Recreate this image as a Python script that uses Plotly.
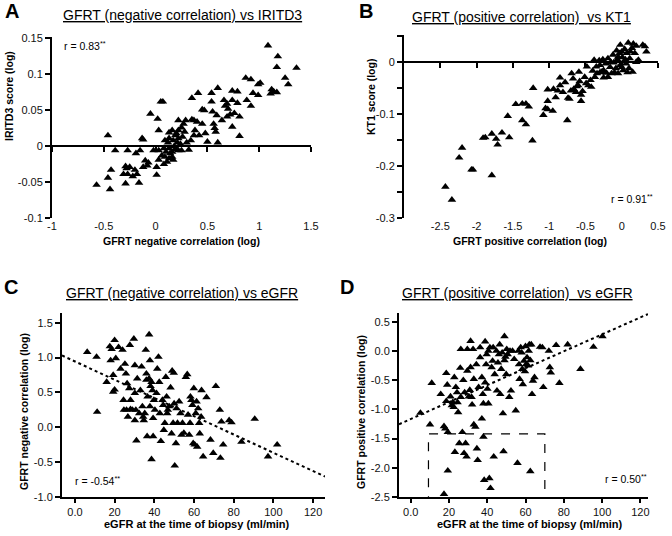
import plotly.graph_objects as go

W, H = 672, 536
FONT = "Arial, Liberation Sans, sans-serif"

# ---- panel A: GFRT negative correlation vs IRITD3 score ----
a_x = [1.085, 1.18, 1.17, 1.36, 1.25, 1.28, 1.12, 1.14, 1.17, 1.11,
       0.87, 0.92, 1.01, 0.99, 0.94, 0.99, 0.88, 0.92, 0.74, 0.79,
       0.60, 0.54, 0.41, 0.35, 0.66, 0.74, 0.79, 0.69, 0.67, 0.70,
       0.72, 0.76, 0.81, 0.69, 0.64, 0.74, 0.81, 0.54, 0.55, 0.59,
       0.45, 0.47, 0.35, 0.37, 0.40, 0.45, 0.56, 0.57, 0.58, 0.48,
       0.42, 0.37, 0.38, 0.50, 0.60, 0.29, 0.27, 0.22, 0.25, 0.22,
       0.16, 0.13, 0.19, 0.22, 0.26, 0.13, 0.09, 0.17, 0.21, 0.30,
       0.34, 0.03, 0.02, -0.05, 0.05, 0.07, -0.13, -0.12, -0.46, -0.39,
       -0.27, -0.19, -0.15, -0.02, 0.03, 0.08, 0.13, 0.16, 0.22, 0.25,
       0.32, 0.06, 0.09, 0.13, 0.16, 0.17, 0.11, 0.08, 0.03, -0.10,
       -0.07, -0.08, 0.01, 0.01, -0.12, -0.20, -0.18, -0.29, -0.28, -0.25,
       -0.27, -0.22, -0.31, -0.16, -0.29, -0.43, -0.46, -0.44, -0.57,
       0.18, 0.20, 0.12, 0.24, 0.14, 0.10, 0.28, 0.19]
a_y = [0.140, 0.125, 0.110, 0.109, 0.095, 0.086, 0.079, 0.076, 0.075, 0.073,
       0.095, 0.093, 0.088, 0.086, 0.074, 0.071, 0.064, 0.056, 0.077, 0.076,
       0.081, 0.074, 0.074, 0.067, 0.064, 0.064, 0.060, 0.059, 0.056, 0.052,
       0.044, 0.046, 0.041, 0.041, 0.036, 0.027, 0.014, 0.062, 0.048, 0.043,
       0.051, 0.050, 0.037, 0.036, 0.034, 0.031, 0.031, 0.025, 0.020, 0.018,
       0.015, 0.015, 0.022, 0.006, 0.005, 0.036, 0.031, 0.036, 0.026, 0.022,
       0.022, 0.019, 0.015, 0.011, 0.013, 0.011, 0.008, 0.008, 0.005, 0.005,
       0.008, 0.022, 0.038, 0.045, 0.062, 0.062, 0.011, 0.009, 0.015, -0.006,
       -0.006, -0.010, -0.006, -0.006, -0.006, -0.003, -0.003, -0.008, -0.006, -0.006,
       -0.005, -0.013, -0.015, -0.017, -0.015, -0.019, -0.022, -0.025, -0.019, -0.020,
       -0.023, -0.027, -0.029, -0.040, -0.029, -0.033, -0.039, -0.028, -0.031, -0.029,
       -0.039, -0.042, -0.039, -0.051, -0.052, -0.033, -0.044, -0.060, -0.054,
       0.000, 0.018, 0.005, 0.003, -0.010, -0.008, 0.020, -0.004]

# ---- panel B: GFRT positive correlation vs KT1 score ----
b_x = [-2.43, -2.34, -2.24, -2.20, -2.07, -2.05, -1.79, -1.91, -1.88, -1.79,
       -1.73, -1.71, -1.65, -1.55, -1.57, -1.46, -1.37, -1.32, -1.28, -1.37,
       -1.32, -1.23, -1.22, -1.08, -1.05, -1.02, -1.02, -0.95, -1.02, -0.94,
       -0.88, -0.91, -0.85, -0.81, -0.78, -0.75, -0.74, -0.72, -0.69, -0.67,
       -0.66, -0.63, -0.62, -0.59, -0.58, -0.56, -0.56, -0.54, -0.51, -0.49,
       -0.48, -0.46, -0.43, -0.42, -0.40, -0.38, -0.37, -0.35, -0.34, -0.31,
       -0.30, -0.28, -0.26, -0.25, -0.22, -0.21, -0.19, -0.19, -0.16, -0.14,
       -0.12, -0.11, -0.08, -0.07, -0.06, -0.05, -0.03, -0.02, -0.02, 0.01,
       0.02, 0.04, 0.06, 0.07, 0.09, 0.10, 0.11, 0.14, 0.15, 0.16,
       0.18, 0.20, 0.23, 0.29, 0.32, 0.34, -0.15, -0.05, 0.00, 0.05,
       0.12, -0.10, 0.08, -0.30, -0.25, 0.00, 0.20, -0.60, -0.70, -0.85]
b_y = [-0.240, -0.265, -0.184, -0.165, -0.207, -0.207, -0.218, -0.146, -0.145, -0.138,
       -0.148, -0.159, -0.136, -0.145, -0.104, -0.081, -0.080, -0.080, -0.086, -0.112,
       -0.120, -0.151, -0.050, -0.102, -0.089, -0.091, -0.075, -0.094, -0.053, -0.052,
       -0.055, -0.068, -0.045, -0.058, -0.039, -0.112, -0.069, -0.071, -0.022, -0.032,
       -0.052, -0.058, -0.047, -0.019, -0.037, -0.063, -0.075, -0.056, -0.029, -0.041,
       -0.009, -0.045, -0.035, -0.048, -0.017, 0.004, -0.029, -0.009, -0.022, 0.003,
       -0.006, -0.019, 0.005, -0.016, -0.003, -0.021, 0.007, -0.029, -0.010, -0.022,
       0.014, -0.001, -0.012, 0.022, 0.005, -0.022, 0.017, -0.006, 0.033, 0.009,
       -0.016, 0.025, -0.003, 0.017, 0.037, -0.012, 0.007, 0.027, -0.019, 0.035,
       0.017, 0.031, 0.004, 0.033, 0.030, 0.020, 0.000, 0.010, -0.010, 0.005,
       0.020, -0.020, -0.020, -0.020, -0.030, 0.020, 0.000, -0.045, -0.055, -0.030]

# ---- panel C: eGFR vs GFRT negative correlation ----
c_x = [6.2, 10.9, 11.2, 16, 17.6, 18.5, 18, 19.3, 19.3, 20,
       20, 20.6, 22, 23, 24, 24.5, 24.7, 25.2, 25.7, 26,
       26.3, 26.7, 27.4, 27.7, 28, 28, 29, 29.7, 30.2, 30.2,
       30.2, 30.7, 31, 31.4, 32.4, 33, 33.6, 34, 34.4, 34.7,
       35.2, 35.7, 36, 36, 36.4, 36.6, 37.4, 37.4, 37.8, 37.8,
       38.1, 38.6, 38.6, 39.1, 39.4, 39.4, 39.8, 40.3, 41.1, 41.5,
       42.1, 42.5, 42.8, 43.3, 44.1, 44.5, 44.8, 45.3, 45.8, 46.2,
       46.5, 46.8, 47.5, 48.2, 48.7, 49, 49.5, 49.8, 50, 50.3,
       50.9, 51.2, 51.7, 52.5, 53.2, 53.7, 54.2, 54.9, 55.9, 56.6,
       57, 57.6, 58, 58.2, 58.7, 59.2, 59.6, 59.9, 60.4, 60.9,
       61.3, 61.6, 62.1, 62.6, 62.9, 63.6, 63.8, 64.6, 66.3, 68.3,
       69.7, 71, 73, 73.3, 73.8, 74.7, 77.7, 78.9, 83.9, 90.6,
       97.3, 101.9]
c_y = [1.08, 1.01, 0.22, 0.65, 1.16, 1.12, 0.96, 0.75, 0.51, 0.54,
       1.25, 0.99, 1.15, 0.84, 1.11, 0.39, 0.25, 0.91, 0.77, 0.25,
       0.63, 0.15, 0.56, 1.18, 0.39, 0.26, 0.25, 1.27, 0.89, 0.49,
       0.10, 0.25, -0.19, 0.70, 0.20, 0.53, 0.87, 0.30, 0.15, 0.10,
       0.20, 1.11, 0.68, 0.77, -0.13, 0.44, 1.33, 0.70, 0.96, 0.30,
       0.59, 0.65, -0.46, 0.53, -0.13, 0.13, 0.39, 0.25, 0.49, 0.84,
       1.01, 0.65, 0.20, -0.20, 0.39, 0.32, -0.04, 0.06, 0.72, 0.44,
       0.20, 0.25, 0.30, 0.57, -0.09, 0.81, 0.06, 0.78, 0.34, -0.55,
       -0.23, 0.27, 0.06, 0.37, 0.20, -0.11, 0.06, -0.08, 0.72, 0.76,
       0.18, -0.11, 0.06, 0.44, 0.39, 0.32, -0.23, 0.56, -0.25, 0.20,
       0.37, -0.28, 0.27, 0.06, -0.09, 0.15, 0.53, -0.42, 0.43, -0.18,
       -0.37, 0.59, 0.25, -0.44, 0.08, -0.25, 0.10, 0.07, -0.21, 0.12,
       -0.42, -0.25]

# ---- panel D: eGFR vs GFRT positive correlation ----
d_x = [5.1, 10.1, 11, 15.7, 17.4, 18.1, 17.4, 18.6, 19.1, 18.6,
       19.4, 19.4, 20.8, 21.5, 22, 22.5, 22.8, 23.1, 23.6, 24.2,
       24.5, 24.8, 25.4, 25.9, 26.2, 26.2, 27, 27.5, 27.9, 28.2,
       28.7, 29.2, 29.6, 29.6, 30.4, 30.9, 31.3, 31.3, 31.8, 32.1,
       32.6, 33, 33, 33.8, 34.3, 34.6, 35, 35.5, 36.3, 36.3,
       37.2, 37.2, 37.7, 38, 38, 38.4, 38.9, 38.9, 39.4, 39.7,
       40.1, 40.6, 40.6, 41.1, 41.4, 41.7, 42.3, 42.8, 43.1, 43.4,
       43.9, 44.8, 45.1, 45.6, 46.1, 46.5, 46.8, 47.3, 47.8, 48.2,
       48.5, 49, 49, 49.5, 49.9, 50.2, 50.7, 51.5, 51.9, 52.4,
       53.2, 54.1, 54.9, 55.8, 56.3, 56.6, 56.9, 57.5, 58, 58.3,
       58.6, 59.2, 59.7, 60, 60.3, 60.8, 61.3, 61.7, 62, 62.5,
       62.5, 63, 63.4, 63.9, 64.7, 67.6, 68.8, 69.3, 72.2, 72.7,
       73.2, 76, 77.7, 82, 88.7, 95.5, 100.2]
d_y = [-1.06, -1.26, -0.55, -0.74, -1.29, -1.33, -2.45, -0.38, -0.58, -0.86,
       -1.39, -2.05, -0.78, -0.93, -0.88, -0.96, -0.45, -1.73, -0.62, -0.71,
       -0.88, -1.05, -1.58, -0.29, 0.03, -0.79, -1.39, -0.50, -1.75, -0.71,
       -1.58, -1.81, -0.34, 0.03, -0.78, -0.67, 0.17, -0.28, -0.79, -0.92,
       0.03, -1.26, -0.48, -1.30, -0.23, -1.67, -1.87, -0.62, 0.06, -0.11,
       -1.16, -0.45, -0.74, -0.90, -1.47, -2.21, 0.16, -0.54, -0.23, -0.06,
       -0.65, 0.00, -0.90, -2.18, 0.06, -2.35, -0.28, -0.17, 0.06, -1.81,
       -0.40, 0.00, -0.68, -0.20, -0.06, 0.11, -0.74, -0.31, -0.03, -1.07,
       -1.72, 0.25, -0.16, -0.10, -0.40, 0.03, -0.06, -0.79, 0.00, -0.68,
       0.00, -0.14, -1.02, -1.92, 0.00, -0.23, -0.48, 0.06, -0.03, -0.31,
       -0.57, -0.17, -0.35, 0.08, -0.23, -0.11, -0.25, 0.00, 0.11, -2.06,
       -0.16, 0.11, -0.74, -0.51, -0.45, 0.07, 0.06, -0.62, 0.00, -0.28,
       -0.37, 0.10, -0.55, 0.11, -0.31, 0.07, 0.25]

# regression lines (intercept, slope) as drawn in the figure
trend_c = [0.945, -0.0131]
trend_d = [-1.166, 0.0145]
# dashed highlight box in D: x0, x1, y0, y1
box_d = [9.3, 70.1, -2.53, -1.42]

titles = ["GFRT (negative correlation) vs IRITD3",
          "GFRT (positive correlation)  vs KT1",
          "GFRT (negative correlation) vs eGFR",
          "GFRT (positive correlation)  vs eGFR"]
letters = ["A", "B", "C", "D"]
r_labels = ["r = 0.83", "r = 0.91", "r = -0.54", "r = 0.50"]


def fx(x):
    return x / W


def fy(y):
    return 1 - y / H


def tri_trace(xs, ys, n):
    sfx = "" if n == 1 else str(n)
    return go.Scatter(x=xs, y=ys, mode="markers", xaxis="x" + sfx, yaxis="y" + sfx,
                      marker=dict(symbol="triangle-up", size=7.5, color="black",
                                  line=dict(width=0)),
                      showlegend=False, hoverinfo="skip")


def trend_trace(coef, xr, n):
    xs = list(xr)
    ys = [coef[0] + coef[1] * v for v in xs]
    return go.Scatter(x=xs, y=ys, mode="lines", xaxis="x%d" % n, yaxis="y%d" % n,
                      line=dict(color="black", width=2, dash="dot"),
                      showlegend=False, hoverinfo="skip")


tick_font = dict(family=FONT, size=11, color="#111")
line_ax = dict(showline=True, linecolor="black", linewidth=2, ticks="outside",
               ticklen=5, tickwidth=2, tickcolor="black", showgrid=False,
               zeroline=False, tickfont=tick_font, automargin=False)

# panel domains in pixels (left, right, top, bottom)
dom = {1: (52, 311, 37, 218), 2: (404, 658, 35, 218),
       3: (62, 325, 313, 497), 4: (399, 648, 313, 497)}

xr = {1: [-1, 1.5], 2: [-3, 0.5], 3: [-6.5, 126], 4: [-6.1, 124]}
yr = {1: [-0.1, 0.152], 2: [-0.3, 0.052], 3: [-1.0, 1.64], 4: [-2.5, 0.65]}

fig = go.Figure()
fig.add_trace(tri_trace(a_x, a_y, 1))
fig.add_trace(tri_trace(b_x, b_y, 2))
fig.add_trace(tri_trace(c_x, c_y, 3))
fig.add_trace(tri_trace(d_x, d_y, 4))
fig.add_trace(trend_trace(trend_c, xr[3], 3))
fig.add_trace(trend_trace(trend_d, xr[4], 4))
# empty traces so the zero-line axes of A and B get drawn
fig.add_trace(go.Scatter(x=[None], y=[None], xaxis="x5", yaxis="y", showlegend=False))
fig.add_trace(go.Scatter(x=[None], y=[None], xaxis="x6", yaxis="y2", showlegend=False))

layout = dict(template="none", width=W, height=H, margin=dict(l=0, r=0, t=0, b=0),
              paper_bgcolor="white", plot_bgcolor="rgba(0,0,0,0)",
              font=dict(family=FONT, color="black"), showlegend=False)

a_xt = [-1, -0.5, 0, 0.5, 1, 1.5]
b_xt = [-2.5, -2, -1.5, -1, -0.5, 0, 0.5]
egfr_t = [0, 20, 40, 60, 80, 100, 120]

for n in (1, 2, 3, 4):
    l, r, t, b = dom[n]
    sfx = "" if n == 1 else str(n)
    xd = [fx(l), fx(r)]
    yd = [fy(b), fy(t)]
    if n in (1, 2):
        xt = a_xt if n == 1 else b_xt
        layout["xaxis" + sfx] = dict(domain=xd, range=xr[n], anchor="y" + sfx,
                                     showline=False, ticks="", showgrid=False,
                                     zeroline=False, tickvals=xt, automargin=False,
                                     ticktext=[("%g" % v) for v in xt],
                                     tickfont=tick_font)
        # axis line drawn through y = 0
        zero_pos = fy(t) + (fy(b) - fy(t)) * (yr[n][1] / (yr[n][1] - yr[n][0]))
        layout["xaxis%d" % (n + 4)] = dict(line_ax, domain=xd, range=xr[n],
                                           overlaying="x" + sfx, anchor="free",
                                           position=zero_pos, tickvals=xt,
                                           showticklabels=False)
    else:
        layout["xaxis" + sfx] = dict(line_ax, domain=xd, range=xr[n], anchor="y" + sfx,
                                     tickvals=egfr_t, ticklen=4,
                                     ticktext=["0.0"] + [str(v) for v in egfr_t[1:]])
    layout["yaxis" + sfx] = dict(line_ax, domain=yd, range=yr[n], anchor="x" + sfx)

layout["yaxis"].update(tickvals=[-0.1, -0.05, 0, 0.05, 0.1, 0.15],
                       ticktext=["-0.1", "-0.05", "0", "0.05", "0.1", "0.15"])
layout["yaxis2"].update(tickvals=[-0.3, -0.2, -0.1, 0],
                        ticktext=["-0.3", "-0.2", "-0.1", "0"],
                        minor=dict(ticks="outside", tick0=0, dtick=0.05, ticklen=5,
                                   tickwidth=2, tickcolor="black", showgrid=False))
layout["yaxis3"].update(tickvals=[-1, -0.5, 0, 0.5, 1, 1.5],
                        ticktext=["-1.0", "-0.5", "0.0", "0.5", "1.0", "1.5"])
layout["yaxis4"].update(tickvals=[-2.5, -2, -1.5, -1, -0.5, 0, 0.5],
                        ticktext=["-2.5", "-2.0", "-1.5", "-1.0", "-0.5", "0.0", "0.5"])
fig.update_layout(**layout)

fig.add_shape(type="rect", xref="x4", yref="y4", x0=box_d[0], x1=box_d[1],
              y0=box_d[2], y1=box_d[3], line=dict(color="black", width=1.2, dash="dash"))


def note(text, x, y, size, xanchor="center", bold=False, angle=0):
    if bold:
        text = "<b>%s</b>" % text
    fig.add_annotation(text=text, x=fx(x), y=fy(y), xref="paper", yref="paper",
                       xanchor=xanchor, yanchor="middle", showarrow=False,
                       textangle=angle, font=dict(family=FONT, size=size, color="black"))


# panel letters and titles
for (lx, ly), (tx, ty), letter, title in zip(
        [(3, 11), (357, 11), (2, 287), (338, 287)],
        [(183, 15), (521, 17), (182, 293), (517, 293)],
        letters, titles):
    note(letter, lx, ly, 20, xanchor="left", bold=True)
    note("<u>%s</u>" % title, tx, ty, 14)

# axis titles
note("GFRT negative correlation (log)", 181, 241, 10.5, bold=True)
note("GFRT positive correlation (log)", 530, 241, 10.5, bold=True)
note("eGFR at the time of biopsy (ml/min)", 197, 524, 11, bold=True)
note("eGFR at the time of biopsy (ml/min)", 530, 524, 11, bold=True)
note("IRITD3 score (log)", 9, 96, 10.5, bold=True, angle=-90)
note("KT1 score (log)", 371, 97, 10.5, bold=True, angle=-90)
note("GFRT negative correlation (log)", 24, 412, 10.5, bold=True, angle=-90)
note("GFRT positive correlation (log)", 361, 412, 10.5, bold=True, angle=-90)

# correlation coefficients
note(r_labels[0] + "<sup>**</sup>", 62, 45, 10.5, xanchor="left")
note(r_labels[1] + "<sup>**</sup>", 655, 199, 10.5, xanchor="right")
note(r_labels[2] + "<sup>**</sup>", 73, 480, 10.5, xanchor="left")
note(r_labels[3] + "<sup>**</sup>", 649, 478, 10.5, xanchor="right")

# page body has a default 8px margin; remove it so the figure fills the window
fig.write_html("out.html", config={"displayModeBar": False},
               post_script="document.body.style.margin='0px';")
